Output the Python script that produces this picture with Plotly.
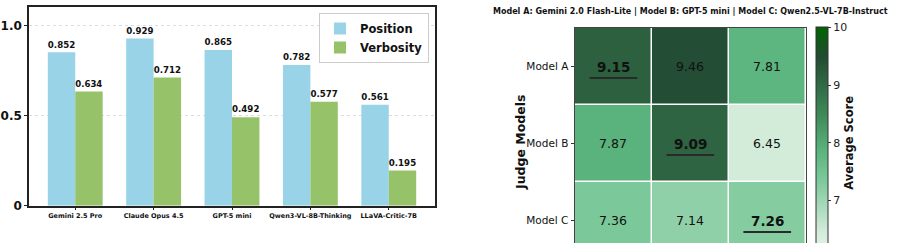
import plotly.graph_objects as go

# ---- data ----
models = ["Gemini 2.5 Pro", "Claude Opus 4.5", "GPT-5 mini", "Qwen3-VL-8B-Thinking", "LLaVA-Critic-7B"]
position = [0.852, 0.929, 0.865, 0.782, 0.561]
verbosity = [0.634, 0.712, 0.492, 0.577, 0.195]

judges = ["Model A", "Model B", "Model C"]
targets = ["Model A", "Model B", "Model C"]
scores = [
    [9.15, 9.46, 7.81],
    [7.87, 9.09, 6.45],
    [7.36, 7.14, 7.26],
]
heat_title = "Model A: Gemini 2.0 Flash-Lite | Model B: GPT-5 mini | Model C: Qwen2.5-VL-7B-Instruct"

W, H = 911, 243
FONT = "DejaVu Sans"

def px_x(p):
    return p / W

def px_y(p):
    return 1 - p / H

fig = go.Figure()

fig.add_trace(go.Bar(
    x=models, y=position, name="Position", marker_color="#99d3e8",
    marker_line_width=0, text=[f"{v:.3f}" for v in position], textposition="outside",
    textfont=dict(family=FONT, size=9.5, color="#111", weight="bold"), cliponaxis=False,
    xaxis="x", yaxis="y",
))
fig.add_trace(go.Bar(
    x=models, y=verbosity, name="Verbosity", marker_color="#96c36a",
    marker_line_width=0, text=[f"{v:.3f}" for v in verbosity], textposition="outside",
    textfont=dict(family=FONT, size=9.5, color="#111", weight="bold"), cliponaxis=False,
    xaxis="x", yaxis="y",
))

colorscale = [
    [0.0, "#eaf6ee"],
    [0.11, "#d4ecdb"],
    [0.29, "#8ecfa7"],
    [0.34, "#7bc99a"],
    [0.46, "#5bb47e"],
    [0.62, "#3f8a58"],
    [0.78, "#2d6240"],
    [0.87, "#224c33"],
    [1.0, "#006400"],
]

fig.add_trace(go.Heatmap(
    z=scores, x=targets, y=judges, zmin=6, zmax=10, colorscale=colorscale,
    xgap=1.5, ygap=1.5, showscale=True, hoverinfo="skip",
    xaxis="x2", yaxis="y2",
    colorbar=dict(
        x=px_x(816), xanchor="left", xpad=0, ypad=0,
        y=px_y(27.3), yanchor="top", lenmode="pixels", len=231,
        thickness=12.3, thicknessmode="pixels",
        outlinewidth=1, outlinecolor="#333",
        tickvals=[7, 8, 9, 10], ticks="outside", ticklen=3, tickcolor="#333",
        tickfont=dict(family=FONT, size=11, color="#222"),
        title=dict(text="Average Score", side="right",
                   font=dict(family=FONT, size=11.5, color="#111", weight="bold")),
    ),
))

annotations = []
shapes = []
for i, row in enumerate(scores):
    for j, v in enumerate(row):
        diag = (i == j)
        annotations.append(dict(
            x=j, y=i, xref="x2", yref="y2", text=f"{v:.2f}", showarrow=False,
            font=dict(family=FONT, size=13.5 if diag else 12.5, color="#111",
                      weight="bold" if diag else "normal"),
        ))
        if diag:
            shapes.append(dict(type="line", xref="x2", yref="y2",
                               x0=j - 0.31, x1=j + 0.31, y0=i + 0.15, y1=i + 0.15,
                               line=dict(color="#2a2a2a", width=2)))

annotations.append(dict(
    x=px_x(690.7), y=px_y(11), xref="paper", yref="paper", text=heat_title,
    showarrow=False, xanchor="center", yanchor="middle",
    font=dict(family=FONT, size=8, color="#111", weight="bold"),
))
annotations.append(dict(
    x=px_x(520), y=px_y(143), xref="paper", yref="paper", text="Judge Models",
    showarrow=False, textangle=-90, xanchor="center", yanchor="middle",
    font=dict(family=FONT, size=12.5, color="#111", weight="bold"),
))

fig.update_layout(
    width=W, height=H, margin=dict(l=0, r=0, t=0, b=0, autoexpand=False),
    paper_bgcolor="white", plot_bgcolor="white",
    barmode="group", bargap=0.3, bargroupgap=0,
    font=dict(family=FONT, color="#111"),
    showlegend=True,
    legend=dict(
        x=px_x(429), xanchor="right", y=px_y(13), yanchor="top",
        bgcolor="white", bordercolor="#cccccc", borderwidth=1,
        font=dict(family=FONT, size=11.5, color="#111", weight="bold"),
        itemwidth=30, tracegroupgap=0,
    ),
    xaxis=dict(
        domain=[px_x(29), px_x(435)], anchor="y", range=[-0.59, 4.59],
        showline=True, linecolor="#222", linewidth=1.5, mirror=True,
        ticks="outside", ticklen=3, tickcolor="#222",
        tickfont=dict(family=FONT, size=6.5, color="#111", weight="bold"),
        showgrid=False, zeroline=False, automargin=False,
    ),
    yaxis=dict(
        domain=[px_y(205.7), px_y(7)], anchor="x", range=[0, 1.104],
        tickvals=[0, 0.5, 1.0], ticktext=["0", "0.5", "1.0"],
        showline=True, linecolor="#222", linewidth=1.5, mirror=True,
        ticks="outside", ticklen=3, tickcolor="#222",
        tickfont=dict(family=FONT, size=12, color="#111", weight="bold"),
        showgrid=True, gridcolor="#dddddd", griddash="dot", gridwidth=1,
        zeroline=False, automargin=False,
    ),
    xaxis2=dict(
        domain=[px_x(575), px_x(805.7)], anchor="y2", range=[-0.5, 2.5],
        showticklabels=False, ticks="", showgrid=False, zeroline=False,
        showline=True, linecolor="#444", linewidth=1, mirror=True, automargin=False,
    ),
    yaxis2=dict(
        domain=[0, px_y(28)], anchor="x2", range=[2.292, -0.5],
        ticks="outside", ticklen=3.5, tickcolor="#333",
        tickfont=dict(family=FONT, size=10.5, color="#111"),
        showgrid=False, zeroline=False, automargin=False,
        showline=True, linecolor="#444", linewidth=1, mirror=True,
    ),
    annotations=annotations, shapes=shapes,
)

fig.write_html("out.html")
